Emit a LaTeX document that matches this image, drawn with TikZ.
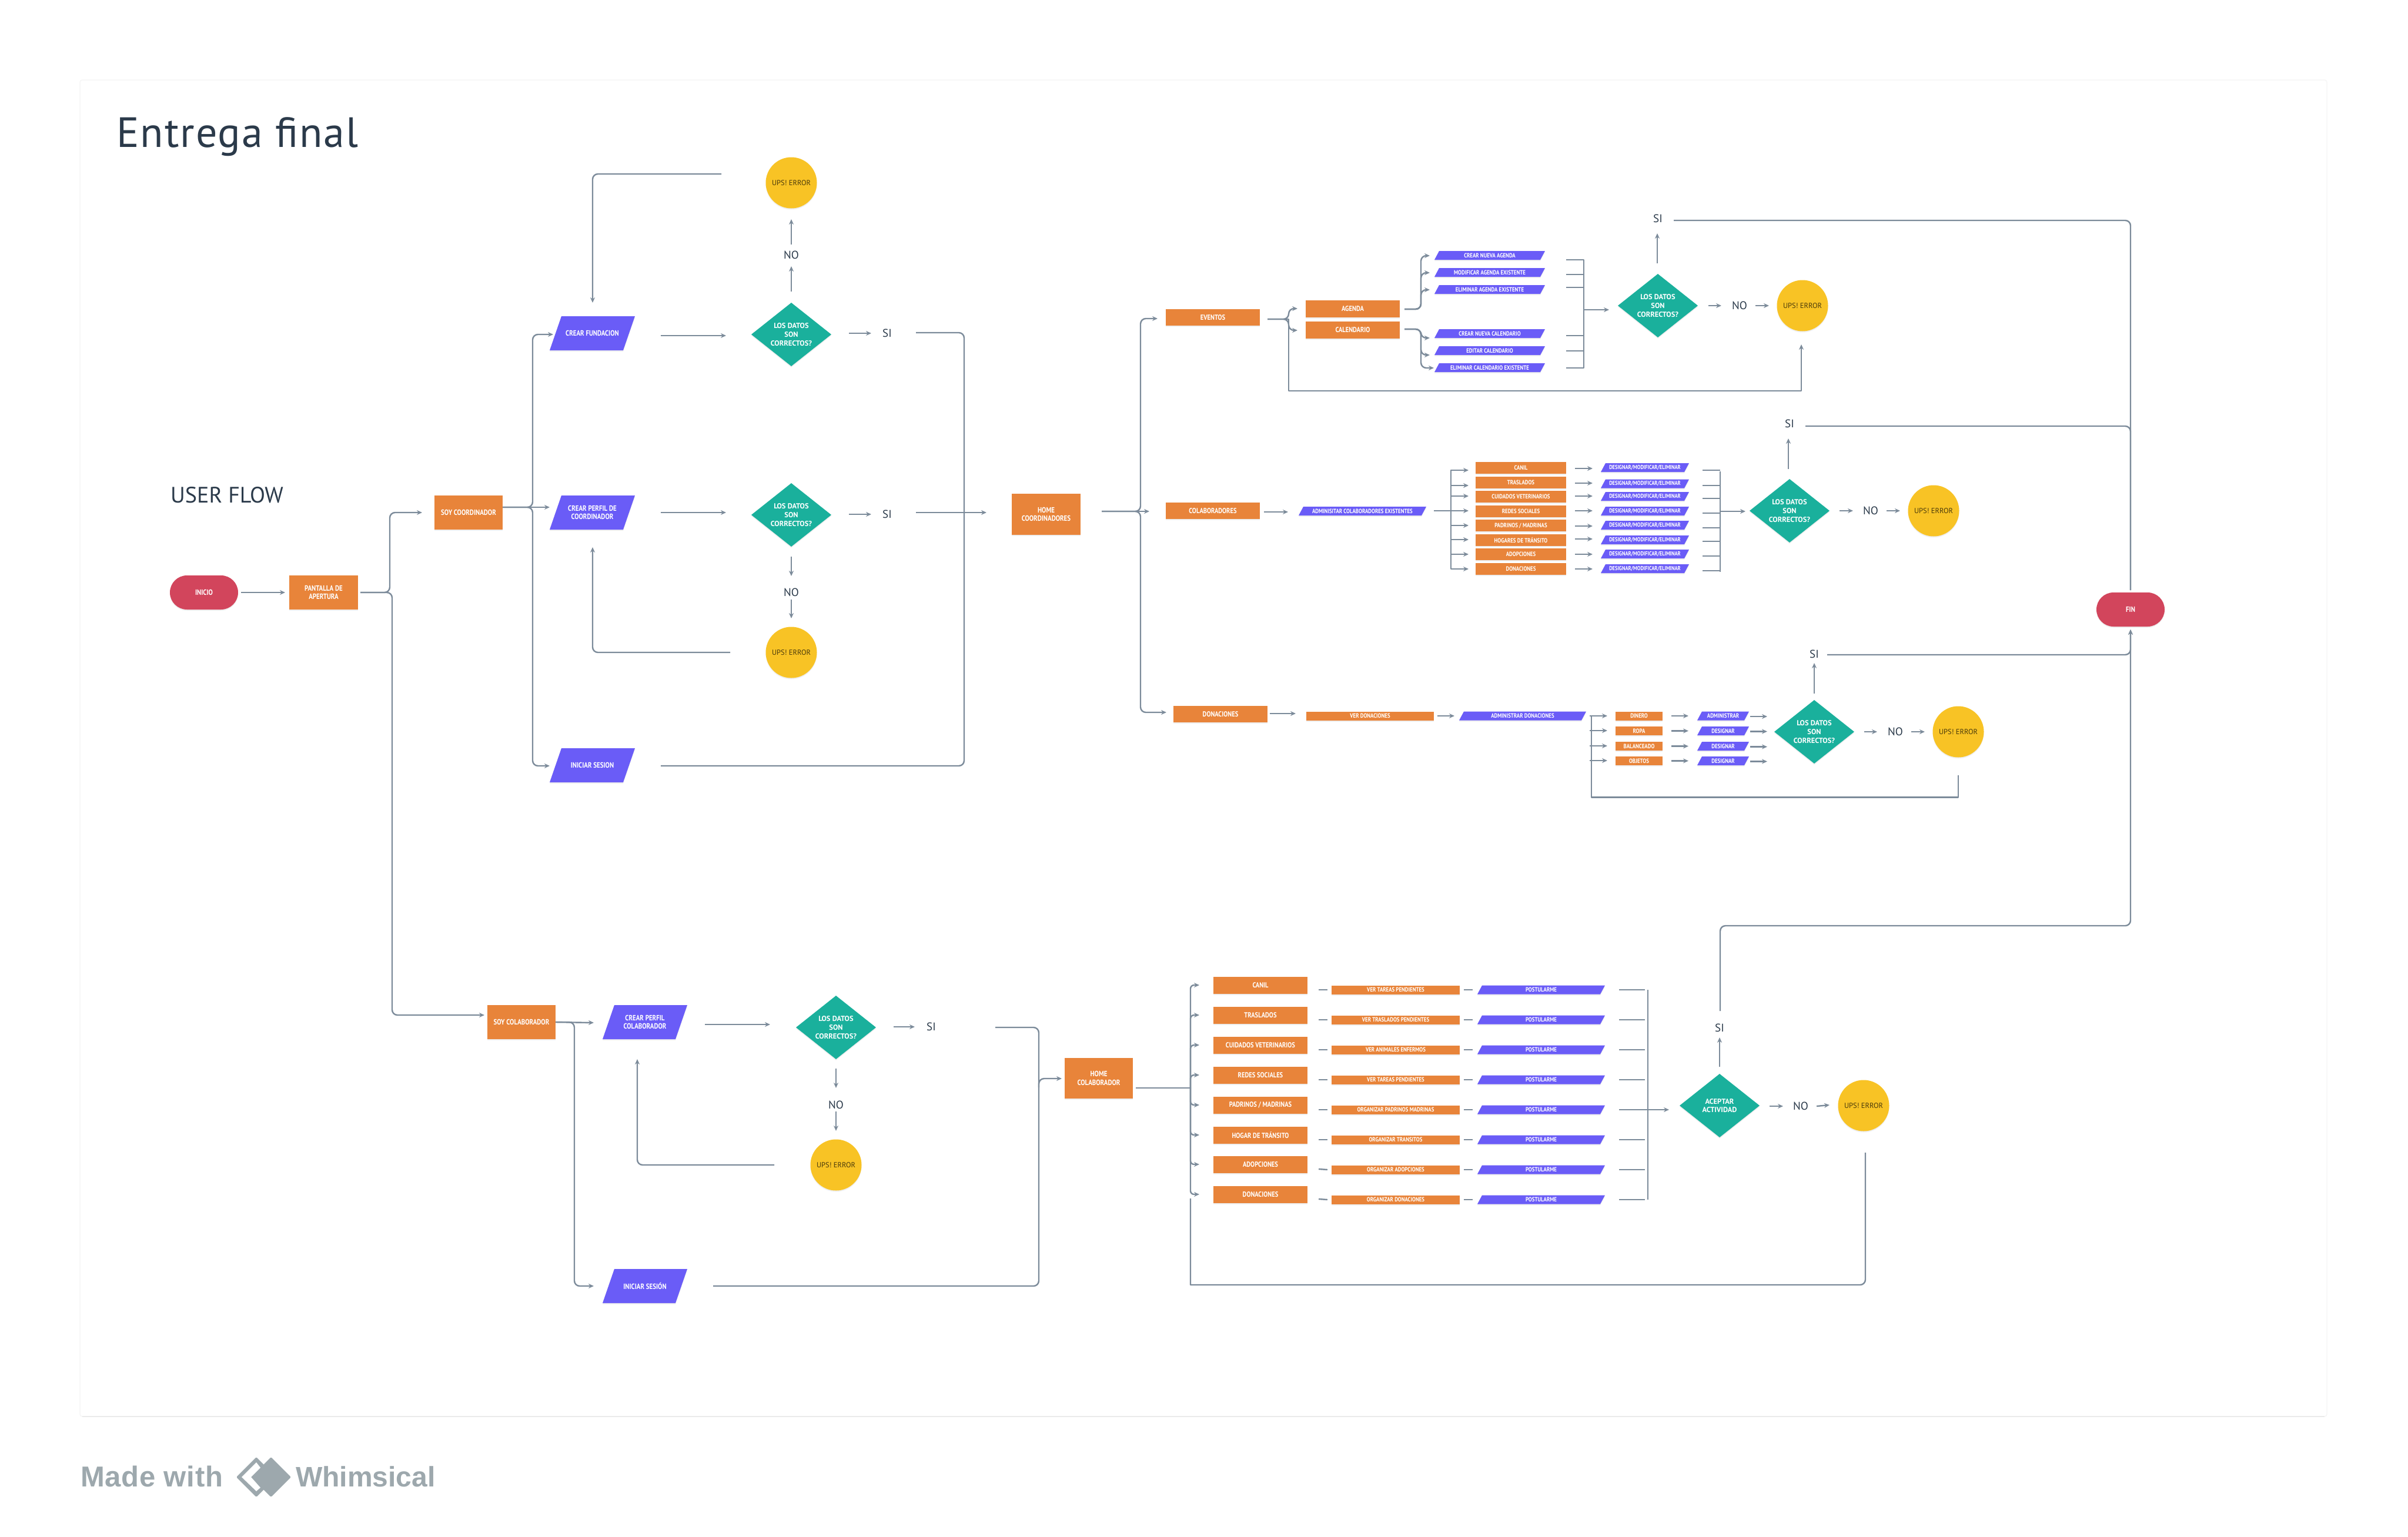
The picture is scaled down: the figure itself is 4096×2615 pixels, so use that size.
\documentclass[tikz,border=0pt]{standalone}
\usepackage{fontspec}
\setmainfont{PT Sans}
\newfontfamily\logofont{Liberation Sans}
\newfontfamily\narrowf[FakeStretch=0.84]{PT Sans}
\usetikzlibrary{arrows.meta,shapes.geometric,shadows}
\definecolor{orangec}{HTML}{E8843A}
\definecolor{violetc}{HTML}{6A5CF7}
\definecolor{tealc}{HTML}{1AB09C}
\definecolor{yellowc}{HTML}{F8C325}
\definecolor{redc}{HTML}{D2455C}
\definecolor{linec}{HTML}{7C8B9A}
\definecolor{inkc}{HTML}{2B3A4A}
\definecolor{greyc}{HTML}{9DA8AD}
\definecolor{framec}{HTML}{F6F6F6}
\definecolor{framebc}{HTML}{EBEBEB}
\newdimen\parxa \newdimen\parya \newdimen\parxb \newdimen\paryb
\def\myskew{20pt}
\makeatletter
\pgfdeclareshape{paral}{
  \inheritsavedanchors[from=rectangle]
  \inheritanchorborder[from=rectangle]
  \inheritanchor[from=rectangle]{center}
  \inheritanchor[from=rectangle]{north}
  \inheritanchor[from=rectangle]{south}
  \inheritanchor[from=rectangle]{east}
  \inheritanchor[from=rectangle]{west}
  \backgroundpath{%
    \southwest \parxa=\pgf@x \parya=\pgf@y
    \northeast \parxb=\pgf@x \paryb=\pgf@y
    \pgfpathmoveto{\pgfqpoint{\parxa}{\parya}}%
    \pgfpathlineto{\pgfqpoint{\dimexpr\parxa+\myskew\relax}{\paryb}}%
    \pgfpathlineto{\pgfqpoint{\parxb}{\paryb}}%
    \pgfpathlineto{\pgfqpoint{\dimexpr\parxb-\myskew\relax}{\parya}}%
    \pgfpathclose
  }
}
\makeatother
\newcommand\lbl[1]{\narrowf\bfseries\fontsize{#1}{14.7}\selectfont}
\newcommand\lblw[1]{\bfseries\fontsize{#1}{14.7}\selectfont}
\tikzset{
  shade shadow/.style={drop shadow={opacity=.13,shadow xshift=0pt,shadow yshift=-2pt}},
  shapebase/.style={inner sep=0pt,outer sep=0pt,align=center,text=white,shade shadow},
  obox/.style={shapebase,rectangle,fill=orangec},
  pbox/.style={shapebase,shape=paral,fill=violetc},
  skewsize/.code={\def\myskew{#1pt}},
  rpill/.style={shapebase,rectangle,fill=redc,rounded corners=29pt,minimum width=116,minimum height=58,font=\lbl{13}},
  dbox/.style={shapebase,diamond,aspect=1.26,fill=tealc,minimum width=136,minimum height=108,font=\lblw{12.5}},
  upsbox/.style={shapebase,circle,fill=yellowc,minimum size=87,text=black!70!yellowc,font=\fontsize{12.5}{14}\selectfont},
  wordbox/.style={inner sep=0pt,outer sep=0pt,text=inkc,font=\fontsize{19}{22}\selectfont},
  big/.style={minimum width=116,minimum height=58,font=\lbl{13}},
  bigp/.style={minimum width=145,minimum height=58,skewsize=20,font=\lbl{13}},
  smallp/.style={skewsize=8,minimum height=15,font=\lbl{10.5}},
  conn/.style={draw=linec,line width=2.4pt,line join=round},
  arr/.style={conn,-{Stealth[length=9pt,width=8pt]}},
  rnd/.style={rounded corners=9pt},
}
\begin{document}
\begin{tikzpicture}[x=1pt,y=-1pt]
\useasboundingbox (0,0) rectangle (4096,2615);
\fill[white] (0,0) rectangle (4096,2615);
\draw[framec,line width=1.5pt,rounded corners=4pt] (136,136) rectangle (3958,2410);
\draw[framebc,line width=1.5pt] (140,2410) -- (3954,2410);

% titles
\node[anchor=base west,inner sep=0pt,text=inkc,font=\addfontfeature{LetterSpace=2.8}\fontsize{72}{80}\selectfont] (title) at (198,250) {Entrega final};
\node[anchor=base west,inner sep=0pt,text=inkc,font=\fontsize{38}{44}\selectfont] (userflow) at (290,855) {USER FLOW};

% left part
\node[rpill] (ini) at (347,1008) {INICIO};
\node[obox,big,minimum width=117] (pant) at (550.5,1008) {PANTALLA DE\\APERTURA};
\node[obox,big] (soyco) at (797,872) {SOY COORDINADOR};
\node[pbox,bigp] (crf) at (1007.5,567) {CREAR FUNDACION};
\node[pbox,bigp] (crp) at (1007.5,872) {CREAR PERFIL DE\\COORDINADOR};
\node[pbox,bigp] (ini1) at (1007.5,1302) {INICIAR SESION};
\node[dbox] (d1) at (1346,569) {LOS DATOS\\SON\\CORRECTOS?};
\node[dbox] (d2) at (1346,876) {LOS DATOS\\SON\\CORRECTOS?};
\node[upsbox] (u1) at (1346,311) {UPS! ERROR};
\node[upsbox] (u2) at (1346,1110) {UPS! ERROR};
\node[wordbox] (no1) at (1346,434) {NO};
\node[wordbox] (no2) at (1346,1008) {NO};
\node[wordbox] (si1) at (1509,567) {SI};
\node[wordbox] (si2) at (1509,875) {SI};
\node[obox,minimum width=117,minimum height=70,font=\lbl{13}] (home) at (1779.5,875) {HOME\\COORDINADORES};

% eventos
\node[obox,minimum width=160,minimum height=28,font=\lbl{12.5}] (eventos) at (2063,540) {EVENTOS};
\node[obox,minimum width=160,minimum height=29,font=\lbl{12.5}] (agenda) at (2301,525.5) {AGENDA};
\node[obox,minimum width=160,minimum height=29,font=\lbl{12.5}] (cal) at (2301,561.5) {CALENDARIO};
\foreach \n/\y/\t in {a1/434.5/CREAR NUEVA AGENDA,a2/463.5/MODIFICAR AGENDA EXISTENTE,a3/492.5/ELIMINAR AGENDA EXISTENTE,a4/567.5/CREAR NUEVA CALENDARIO,a5/596.5/EDITAR CALENDARIO,a6/625.5/ELIMINAR CALENDARIO EXISTENTE}
  \node[pbox,smallp,minimum width=188] (\n) at (2534,\y) {\t};
\node[dbox] (d3) at (2820,520) {LOS DATOS\\SON\\CORRECTOS?};
\node[wordbox] (si3) at (2820,372) {SI};
\node[wordbox] (no3) at (2959,520) {NO};
\node[upsbox] (u3) at (3066,520) {UPS! ERROR};

% colaboradores
\node[obox,minimum width=160,minimum height=28,font=\lbl{12.5}] (colab) at (2063,869) {COLABORADORES};
\node[pbox,smallp,minimum width=217] (adm) at (2317.5,869.5) {ADMINISITAR COLABORADORES EXISTENTES};
\foreach \n/\y/\t in {b1/796/CANIL,b2/820.5/TRASLADOS,b3/845/CUIDADOS VETERINARIOS,b4/869.5/REDES SOCIALES,b5/894/{PADRINOS / MADRINAS},b6/918.5/HOGARES DE TRÁNSITO,b7/943/ADOPCIONES,b8/967.5/DONACIONES}
  \node[obox,minimum width=154,minimum height=20,font=\lbl{10.5}] (\n) at (2587,\y) {\t};
\foreach \n/\y in {p1/795.5,p2/823,p3/844.5,p4/869.5,p5/893.5,p6/918.5,p7/942.5,p8/967.5}
  \node[pbox,smallp,minimum width=150,font=\lbl{10}] (\n) at (2798,\y) {DESIGNAR/MODIFICAR/ELIMINAR};
\node[dbox] (d4) at (3044,869) {LOS DATOS\\SON\\CORRECTOS?};
\node[wordbox] (si4) at (3044,721) {SI};
\node[wordbox] (no4) at (3182,869) {NO};
\node[upsbox] (u4) at (3289,869) {UPS! ERROR};

% donaciones
\node[obox,minimum width=160,minimum height=28,font=\lbl{12.5}] (don) at (2076,1215) {DONACIONES};
\node[obox,minimum width=217,minimum height=15,font=\lbl{10.5}] (ver) at (2330.5,1218) {VER DONACIONES};
\node[pbox,smallp,minimum width=216] (admd) at (2590,1218) {ADMINISTRAR DONACIONES};
\foreach \n/\y/\t in {o1/1218/DINERO,o2/1243.5/ROPA,o3/1269.5/BALANCEADO,o4/1294.5/OBJETOS}
  \node[obox,minimum width=80,minimum height=15,font=\lbl{10.5}] (\n) at (2788,\y) {\t};
\foreach \n/\y/\t in {s1/1218/ADMINISTRAR,s2/1243.5/DESIGNAR,s3/1269.5/DESIGNAR,s4/1294.5/DESIGNAR}
  \node[pbox,smallp,minimum width=88] (\n) at (2931,\y) {\t};
\node[dbox] (d5) at (3086,1245) {LOS DATOS\\SON\\CORRECTOS?};
\node[wordbox] (si5) at (3086,1113) {SI};
\node[wordbox] (no5) at (3224,1245) {NO};
\node[upsbox] (u5) at (3331,1245) {UPS! ERROR};
\node[rpill] (fin) at (3624,1037) {FIN};

% colaborador row
\node[obox,big] (soyco2) at (887,1739) {SOY COLABORADOR};
\node[pbox,bigp,minimum width=144] (crc) at (1097,1739) {CREAR PERFIL\\COLABORADOR};
\node[pbox,bigp,minimum width=144] (ini2) at (1097,2188) {INICIAR SESIÓN};
\node[dbox] (d6) at (1422,1748) {LOS DATOS\\SON\\CORRECTOS?};
\node[wordbox] (si6) at (1584,1747) {SI};
\node[wordbox] (no6) at (1422,1880) {NO};
\node[upsbox] (u6) at (1422,1982) {UPS! ERROR};
\node[obox,minimum width=116,minimum height=69,font=\lbl{13}] (home2) at (1869,1834.5) {HOME\\COLABORADOR};
\foreach \i/\y/\yy/\t/\tt in {
 1/1676/1684/CANIL/VER TAREAS PENDIENTES,
 2/1727/1735/TRASLADOS/VER TRASLADOS PENDIENTES,
 3/1778/1786/CUIDADOS VETERINARIOS/VER ANIMALES ENFERMOS,
 4/1829/1837/REDES SOCIALES/VER TAREAS PENDIENTES,
 5/1880/1888/{PADRINOS / MADRINAS}/ORGANIZAR PADRINOS MADRINAS,
 6/1931/1939/HOGAR DE TRÁNSITO/ORGANIZAR TRANSITOS,
 7/1981/1990/ADOPCIONES/ORGANIZAR ADOPCIONES,
 8/2032/2041/DONACIONES/ORGANIZAR DONACIONES}{
  \node[obox,minimum width=160,minimum height=29,font=\lbl{12.5}] (c\i) at (2144,\y) {\t};
  \node[obox,minimum width=218,minimum height=15,font=\lbl{10.5}] (e\i) at (2374,\yy) {\tt};
  \node[pbox,smallp,minimum width=217] (f\i) at (2621.5,\yy) {POSTULARME};
}
\node[dbox] (d7) at (2925,1881) {ACEPTAR\\ACTIVIDAD};
\node[wordbox] (si7) at (2925,1749) {SI};
\node[wordbox] (no7) at (3063,1882) {NO};
\node[upsbox] (u7) at (3170,1881) {UPS! ERROR};

% ---- connectors: left part
\draw[arr] ([shift={(63,0)}]ini.center) -- ([shift={(-65.5,0)}]pant.center);
\draw[arr,rnd] ([shift={(62.5,0)}]pant.center) -- ++(50,0) |- ([shift={(-79,0)}]soyco.center);
\draw[arr,rnd] ([shift={(62.5,0)}]pant.center) -- ++(54,0) |- ([shift={(-63,-12)}]soyco2.center);
\draw[arr,rnd] ([shift={(58,-9)}]soyco.center) -- ++(51,0) |- ([shift={(-66.5,2)}]crf.center);
\draw[arr] ([shift={(58,-9)}]soyco.center) -- ([shift={(-72.5,-9)}]crp.center);
\draw[arr,rnd] ([shift={(58,-9)}]soyco.center) -- ++(51,0) |- ([shift={(-72.5,1)}]ini1.center);
\draw[arr] ([shift={(116.5,4)}]crf.center) -- ([shift={(-111,2)}]d1.center);
\draw[arr] ([shift={(0,-73)}]d1.center) -- ([shift={(0,19)}]no1.center);
\draw[arr] ([shift={(0,-18)}]no1.center) -- ([shift={(0,62)}]u1.center);
\draw[arr,rnd] ([shift={(-119,-15)}]u1.center) -| ([shift={(0.5,-52)}]crf.center);
\draw[arr] ([shift={(98,-2)}]d1.center) -- ([shift={(-27,0)}]si1.center);
\draw[conn,rnd] ([shift={(49,-1)}]si1.center) -- ++(82,0) |- ([shift={(116.5,1)}]ini1.center);
\draw[arr] ([shift={(116.5,0)}]crp.center) -- ([shift={(-111,-4)}]d2.center);
\draw[arr] ([shift={(98,-1)}]d2.center) -- ([shift={(-27,0)}]si2.center);
\draw[arr] ([shift={(49,-3)}]si2.center) -- ([shift={(-101.5,-3)}]home.center);
\draw[arr] ([shift={(0,71)}]d2.center) -- ([shift={(0,-28)}]no2.center);
\draw[arr] ([shift={(0,12)}]no2.center) -- ([shift={(0,-58)}]u2.center);
\draw[arr,rnd] ([shift={(-104,0)}]u2.center) -| ([shift={(0.5,59)}]crp.center);
% home branches
\draw[arr] ([shift={(94.5,-5)}]home.center) -- ([shift={(-108,1)}]colab.center);
\draw[arr,rnd] ([shift={(94.5,-5)}]home.center) -- ++(66,0) |- ([shift={(-94,2)}]eventos.center);
\draw[arr,rnd] ([shift={(94.5,-5)}]home.center) -- ++(66,0) |- ([shift={(-92,-3)}]don.center);
% eventos
\draw[arr,rnd] ([shift={(93,3)}]eventos.center) -- ++(36,0) |- ([shift={(-94,-0.5)}]agenda.center);
\draw[arr,rnd] ([shift={(93,3)}]eventos.center) -- ++(36,0) |- ([shift={(-94,0.5)}]cal.center);
\draw[arr] ([shift={(93,3)}]eventos.center) -- ++(36,0) -- ++(0,122) -| ([shift={(-2,66)}]u3.center);
\foreach \n in {a1,a2,a3}
  \draw[arr,rnd] ([shift={(88,0.5)}]agenda.center) -- ++(28,0) |- ([shift={(-102,0.5)}]\n.center);
\draw[arr,rnd] ([shift={(88,-1.5)}]cal.center) -- ++(28,0) |- ([shift={(-102,7.5)}]a4.center);
\draw[arr,rnd] ([shift={(88,-1.5)}]cal.center) -- ++(28,0) |- ([shift={(-102,7.5)}]a5.center);
\draw[arr,rnd] ([shift={(88,-1.5)}]cal.center) -- ++(28,0) |- ([shift={(-95,0.5)}]a6.center);
\draw[conn] ([shift={(130,7.5)}]a1.center) -- ++(30,0) -- ++(0,184) -- ([shift={(130,0.5)}]a6.center);
\foreach \n/\d in {a2/3.5,a3/-3.5,a4/3.5,a5/0.5}
  \draw[conn] ([shift={(130,\d)}]\n.center) -- ++(30,0);
\draw[arr] ([shift={(160,34.5)}]a3.center) -- ([shift={(-83,7)}]d3.center);
\draw[arr] ([shift={(-1,-72)}]d3.center) -- ([shift={(-1,25)}]si3.center);
\draw[conn,rnd] ([shift={(27,3)}]si3.center) -| ([shift={(0,-33)}]fin.center);
\draw[arr] ([shift={(86,0)}]d3.center) -- ([shift={(-31,0)}]no3.center);
\draw[arr] ([shift={(27,0)}]no3.center) -- ([shift={(-57,0)}]u3.center);
% colaboradores
\draw[arr] ([shift={(87,2)}]colab.center) -- ([shift={(-126.5,1.5)}]adm.center);
\foreach \n/\d in {b1/4,b2/5.5,b3/-1,b4/-0.5,b5/0,b6/-0.5,b7/0,b8/0.5}
  \draw[arr] ([shift={(121.5,-0.5)}]adm.center) -- ++(29,0) |- ([shift={(-89,\d)}]\n.center);
\foreach \b/\p/\d/\e/\g in {b1/p1/1/1.5/4.5,b2/p2/1.5/-1/3,b3/p3/-1/-0.5/3.5,b4/p4/-0.5/-0.5/3.5,b5/p5/1/1.5/4.5,b6/p6/-1.5/-1.5/2.5,b7/p7/0/0.5/3.5,b8/p8/0.5/0.5/3.5}{
  \draw[arr] ([shift={(92,\d)}]\b.center) -- ([shift={(-89,\e)}]\p.center);
  \draw[conn] ([shift={(98,\g)}]\p.center) -- ++(30,0);
}
\draw[conn] ([shift={(128,6.5)}]p1.center) -- ([shift={(128,5.5)}]p8.center);
\draw[arr] ([shift={(128,0.5)}]p4.center) -- ([shift={(-75,1)}]d4.center);
\draw[arr] ([shift={(-2,-71)}]d4.center) -- ([shift={(-2,25)}]si4.center);
\draw[conn,rnd] ([shift={(27,4)}]si4.center) -| ([shift={(0,-33)}]fin.center);
\draw[arr] ([shift={(85,0)}]d4.center) -- ([shift={(-30,0)}]no4.center);
\draw[arr] ([shift={(27,0)}]no4.center) -- ([shift={(-57,0)}]u4.center);
% donaciones
\draw[arr] ([shift={(84,-1)}]don.center) -- ([shift={(-126.5,-4)}]ver.center);
\draw[arr] ([shift={(114.5,0)}]ver.center) -- ([shift={(-116,0)}]admd.center);
\draw[conn] ([shift={(0,73.5)}]u5.center) -- ++(0,38) -| ([shift={(117,0)}]admd.center);
\draw[arr] ([shift={(114,0)}]admd.center) -- ([shift={(-54,0)}]o1.center);
\draw[arr] ([shift={(114,25)}]admd.center) -- ([shift={(-54,-0.5)}]o2.center);
\draw[arr] ([shift={(114,51)}]admd.center) -- ([shift={(-54,-0.5)}]o3.center);
\draw[arr] ([shift={(114,76)}]admd.center) -- ([shift={(-54,-0.5)}]o4.center);
\foreach \o/\s/\y in {o1/s1/-26,o2/s2/-0.5,o3/s3/25.5,o4/s4/50.5}{
  \draw[arr] ([shift={(55,0)}]\o.center) -- ([shift={(-59,0)}]\s.center);
  \draw[arr] ([shift={(46,1)}]\s.center) -- ([shift={(-80,\y)}]d5.center);
}
\draw[arr] ([shift={(0,-65)}]d5.center) -- ([shift={(0,15)}]si5.center);
\draw[arr,rnd] ([shift={(22,1)}]si5.center) -| ([shift={(0,34)}]fin.center);
\draw[arr] ([shift={(85,0)}]d5.center) -- ([shift={(-31,0)}]no5.center);
\draw[arr] ([shift={(27,0)}]no5.center) -- ([shift={(-57,0)}]u5.center);
% colaborador row
\draw[arr] ([shift={(58,0)}]soyco2.center) -- ([shift={(-87,1)}]crc.center);
\draw[arr,rnd] ([shift={(58,0)}]soyco2.center) -- ++(32,0) |- ([shift={(-87,0)}]ini2.center);
\draw[arr] ([shift={(102,4)}]crc.center) -- ([shift={(-112,-5)}]d6.center);
\draw[arr] ([shift={(98,-1)}]d6.center) -- ([shift={(-28,0)}]si6.center);
\draw[conn,rnd] ([shift={(109,1)}]si6.center) -- ++(74,0) |- ([shift={(116,0)}]ini2.center);
\draw[arr,rnd] ([shift={(183,103)}]si6.center) |- ([shift={(-63,0.5)}]home2.center);
\draw[arr] ([shift={(0,70)}]d6.center) -- ([shift={(0,-29)}]no6.center);
\draw[arr] ([shift={(0,11)}]no6.center) -- ([shift={(0,-58)}]u6.center);
\draw[arr,rnd] ([shift={(-105,0)}]u6.center) -| ([shift={(-13,63)}]crc.center);
\draw[conn] ([shift={(63,16.5)}]home2.center) -- ++(93,0);
\foreach \i in {1,...,8}{
  \draw[arr,rounded corners=6pt] ([shift={(156,16.5)}]home2.center) |- ([shift={(-104,0)}]c\i.center);
  \draw[conn] ([shift={(99,8)}]c\i.center) -- ([shift={(-116,0)}]e\i.center);
  \draw[conn] ([shift={(116,0)}]e\i.center) -- ([shift={(-116.5,0)}]f\i.center);
  \draw[conn] ([shift={(132.5,0)}]f\i.center) -- ++(44,0);
}
\draw[conn] ([shift={(181.5,0)}]f1.center) -- ([shift={(181.5,0)}]f8.center);
\draw[arr] ([shift={(132.5,0)}]f5.center) -- ([shift={(-86,7)}]d7.center);
\draw[arr] ([shift={(0,-66)}]d7.center) -- ([shift={(0,16)}]si7.center);
\draw[arr,rnd] ([shift={(1,-29)}]si7.center) -- ++(0,-145) -| ([shift={(0,34)}]fin.center);
\draw[arr] ([shift={(85,1)}]d7.center) -- ([shift={(-30,0)}]no7.center);
\draw[arr] ([shift={(27,0)}]no7.center) -- ([shift={(-58,-1)}]u7.center);
\draw[conn] ([shift={(3,80)}]u7.center) [rnd] -- ++(0,225) [sharp corners] -| ([shift={(-119,7)}]c8.center);

% logo
\node[anchor=base west,inner sep=0pt,text=greyc,font=\logofont\bfseries\addfontfeature{LetterSpace=1.5}\fontsize{49}{52}\selectfont] (madewith) at (137,2529) {Made with};
\node[anchor=base west,inner sep=0pt,text=greyc,font=\logofont\bfseries\fontsize{48}{52}\selectfont] (whim) at (503,2529) {Whimsical};
\fill[greyc,rounded corners=1.5pt] (402,2513) -- (436,2479) -- (470,2513) -- (436,2547) -- cycle;
\fill[greyc,rounded corners=1.5pt] (427,2513) -- (461,2479) -- (495,2513) -- (461,2547) -- cycle;
\fill[white] (436,2488) -- (411,2513) -- (436,2537) -- (443,2531) -- (427,2513) -- (443,2497) -- cycle;
\end{tikzpicture}
\end{document}
